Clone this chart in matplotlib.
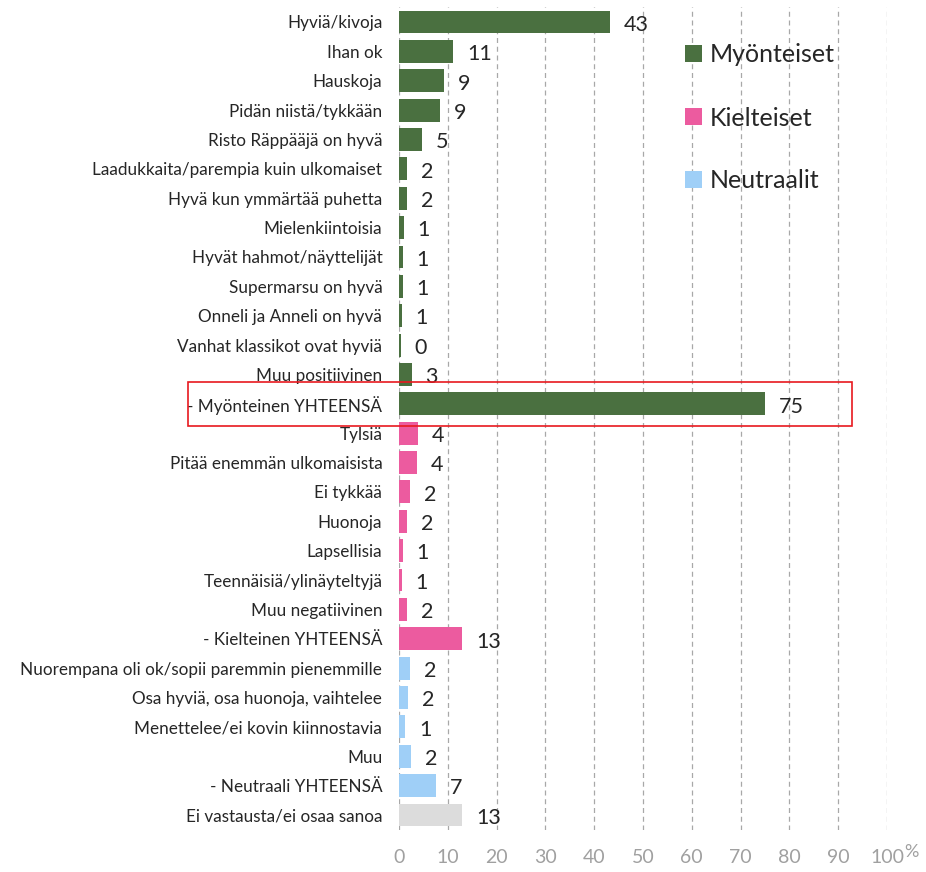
import matplotlib
matplotlib.use("Agg")
import matplotlib.pyplot as plt
from matplotlib.patches import Patch, Rectangle
import matplotlib.transforms as mtransforms

categories = [
    "Hyviä/kivoja", "Ihan ok", "Hauskoja", "Pidän niistä/tykkään", "Risto Räppääjä on hyvä",
    "Laadukkaita/parempia kuin ulkomaiset", "Hyvä kun ymmärtää puhetta", "Mielenkiintoisia",
    "Hyvät hahmot/näyttelijät", "Supermarsu on hyvä", "Onneli ja Anneli on hyvä",
    "Vanhat klassikot ovat hyviä", "Muu positiivinen", "- Myönteinen YHTEENSÄ",
    "Tylsiä", "Pitää enemmän ulkomaisista", "Ei tykkää", "Huonoja", "Lapsellisia",
    "Teennäisiä/ylinäyteltyjä", "Muu negatiivinen", "- Kielteinen YHTEENSÄ",
    "Nuorempana oli ok/sopii paremmin pienemmille", "Osa hyviä, osa huonoja, vaihtelee",
    "Menettelee/ei kovin kiinnostavia", "Muu", "- Neutraali YHTEENSÄ",
    "Ei vastausta/ei osaa sanoa",
]
values = [43.3, 11.1, 9.3, 8.5, 4.7, 1.6, 1.6, 1.0, 0.8, 0.8, 0.55, 0.4, 2.6, 75.0,
          3.8, 3.6, 2.2, 1.6, 0.8, 0.55, 1.6, 13.0,
          2.2, 1.9, 1.3, 2.4, 7.5, 12.9]
value_labels = ["43", "11", "9", "9", "5", "2", "2", "1", "1", "1", "1", "0", "3", "75",
                "4", "4", "2", "2", "1", "1", "2", "13",
                "2", "2", "1", "2", "7", "13"]
groups = ["pos"] * 14 + ["neg"] * 8 + ["neu"] * 5 + ["none"]
group_colors = {"pos": "#4a7040", "neg": "#ec5b9f", "neu": "#9fcff7", "none": "#dcdcdc"}
legend_labels = ["Myönteiset", "Kielteiset", "Neutraalit"]
xticks = list(range(0, 101, 10))

plt.rcParams['font.family'] = ['Lato', 'DejaVu Sans']

fig = plt.figure(figsize=(9.26, 8.72), dpi=100)
ax = fig.add_axes([399 / 926, 1 - 829.7 / 872, 488 / 926, 822.4 / 872])

ypos = list(range(len(categories)))
colors = [group_colors[g] for g in groups]
ax.barh(ypos, values, height=0.78, color=colors, zorder=3)
for y, v, lab in zip(ypos, values, value_labels):
    ax.annotate(lab, (v, y), xytext=(10, -2), textcoords="offset points",
                ha="left", va="center", fontsize=15.5, color="#262626")

ax.set_ylim(len(categories) - 0.5, -0.5)
ax.set_xlim(0, 100)
ax.set_yticks(ypos)
ax.set_yticklabels(categories, fontsize=12.3, color="#262626")
ax.set_xticks(xticks)
ax.set_xticklabels([str(t) for t in xticks], fontsize=14, color="#a0a0a0")
ax.tick_params(axis="y", length=0, pad=12)
ax.tick_params(axis="x", length=0, pad=14)
for s in ax.spines.values():
    s.set_visible(False)
for t in xticks:
    ax.axvline(t, color="#a8a8a8", linestyle=(0, (4, 3)), linewidth=0.9, zorder=1)
fig.text(904 / 926, 1 - 852 / 872, "%", fontsize=13, color="#a0a0a0", ha="left", va="center")

# highlight box around total row
trans = mtransforms.blended_transform_factory(fig.transFigure, ax.transData)
idx = categories.index("- Myönteinen YHTEENSÄ")
rect = Rectangle((188 / 926, idx + 0.75), (852 - 188) / 926, -1.5, transform=trans,
                 fill=False, edgecolor="#e8191f", linewidth=1.2, clip_on=False, zorder=5)
fig.add_artist(rect)

handles = [Patch(facecolor=group_colors[g]) for g in ["pos", "neg", "neu"]]
leg = fig.legend(handles, legend_labels, loc="upper left", bbox_to_anchor=(662 / 926, 1 - 21 / 872),
                 frameon=False, fontsize=18, handlelength=0.7, handleheight=0.7,
                 handletextpad=0.3, labelspacing=1.6, labelcolor="#262626")

fig.savefig("out.png", dpi=100)
